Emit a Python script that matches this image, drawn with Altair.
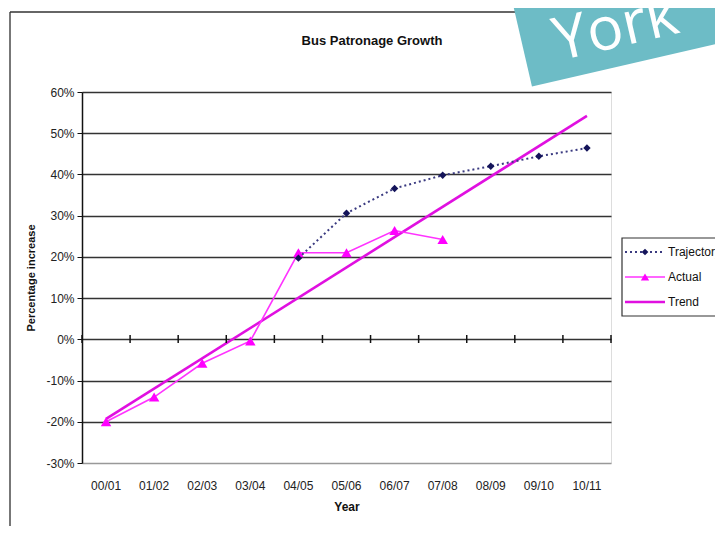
import altair as alt
import pandas as pd

# ---- data ----
chart_title = "Bus Patronage Growth"
years = ["00/01", "01/02", "02/03", "03/04", "04/05", "05/06",
         "06/07", "07/08", "08/09", "09/10", "10/11"]
trajectory = [None, None, None, None, 19.7, 30.6, 36.6, 39.8, 42.0, 44.4, 46.4]
actual = [-20.0, -14.0, -5.8, -0.4, 21.0, 21.0, 26.4, 24.2, None, None, None]
trend = [-19.3, None, None, None, None, None, None, None, None, None, 54.2]
series = ["Trajectory", "Actual", "Trend"]
y_ticks = [-30, -20, -10, 0, 10, 20, 30, 40, 50, 60]

FONT = "Liberation Sans Narrow, Arial Narrow, Liberation Sans, Arial, sans-serif"
C_TRAJ = "#14145a"
C_ACT = "#ff33ff"
C_TREND = "#e010e0"


def frame(vals):
    return pd.DataFrame({"Year": [y for y, v in zip(years, vals) if v is not None],
                         "Value": [v for v in vals if v is not None]})


df_traj = frame(trajectory)
df_act = frame(actual)
df_trend = frame(trend)
df_cat = pd.DataFrame({"Year": years})
dummy = pd.DataFrame({"a": [0]})

xscale = alt.Scale(domain=years, paddingInner=0, paddingOuter=0)
yscale = alt.Scale(domain=[-30, 60], nice=False, zero=False)

x_axis = alt.Axis(title="Year", labelAngle=0, ticks=False, domain=False,
                  labelPadding=17, titlePadding=10, labelFont=FONT,
                  labelFontSize=12, labelColor="#222", titleFont=FONT,
                  titleFontSize=12, titleFontWeight="bold", titleColor="#111",
                  grid=False)
X = alt.X("Year:N", scale=xscale, sort=years, axis=x_axis)
Y = alt.Y("Value:Q", scale=yscale,
          axis=alt.Axis(title="Percentage increase", values=y_ticks,
                        labelExpr="datum.value + '%'", labelFont=FONT,
                        labelFontSize=12, labelColor="#222", labelPadding=3,
                        tickSize=5, tickColor="#111", domainColor="#111",
                        domainWidth=1.5,
                        gridColor=alt.condition("datum.value == -30",
                                                alt.value("#999"), alt.value("#333")),
                        gridWidth=1.6, titleFont=FONT, titleFontSize=11,
                        titleFontWeight="bold", titleColor="#111",
                        titlePadding=9))

# decorations: outer frame and York banner
frame_left = alt.Chart(dummy).mark_rule(color="#777", strokeWidth=2).encode(
    x=alt.value(-72), y=alt.value(-80), y2=alt.value(460))
frame_top = alt.Chart(dummy).mark_rule(color="#333", strokeWidth=1.5).encode(
    x=alt.value(-72), x2=alt.value(640), y=alt.value(-80))
banner = alt.Chart(dummy).mark_point(
    shape="M-1,-0.5H1V0.5H-1Z", filled=True, fill="#6dbcc6", opacity=1,
    strokeWidth=0, angle=347, size=67600).encode(
    x=alt.value(562), y=alt.value(-98))
banner_text = alt.Chart(dummy).mark_text(
    text="York", font="Open Sans, Liberation Sans, sans-serif", fontSize=60,
    color="white", angle=347, align="center", baseline="middle").encode(
    x=alt.value(534), y=alt.value(-63))
title_text = alt.Chart(dummy).mark_text(
    text=chart_title, font=FONT, fontSize=13, fontWeight="bold", color="#111",
    align="center", baseline="middle").encode(
    x=alt.value(290), y=alt.value(-51))

# zero-line ticks at category boundaries
zero_ticks = alt.Chart(df_cat).mark_rule(color="#111", strokeWidth=1.5).encode(
    x=alt.X("Year:N", scale=xscale, sort=years, bandPosition=0, axis=x_axis),
    y=alt.value(243), y2=alt.value(251))
zero_tick_end = alt.Chart(dummy).mark_rule(color="#111", strokeWidth=1.5).encode(
    x=alt.value(529), y=alt.value(243), y2=alt.value(251))

# data series
traj_line = alt.Chart(df_traj).mark_line(
    color="#3a3a80", strokeDash=[2, 3], strokeWidth=2).encode(x=X, y=Y)
traj_pts = alt.Chart(df_traj).mark_point(
    shape="diamond", filled=True, color=C_TRAJ, size=55, opacity=1).encode(x=X, y=Y)
act_line = alt.Chart(df_act).mark_line(color=C_ACT, strokeWidth=1.6).encode(x=X, y=Y)
act_pts = alt.Chart(df_act).mark_point(
    shape="triangle-up", filled=True, color="#ff00ff", size=110, opacity=1).encode(x=X, y=Y)
trend_line = alt.Chart(df_trend).mark_line(color=C_TREND, strokeWidth=2.6).encode(x=X, y=Y)

# manual legend
leg_box = alt.Chart(dummy).mark_rect(fill="white", stroke="#333", strokeWidth=1.2).encode(
    x=alt.value(540), x2=alt.value(660), y=alt.value(146), y2=alt.value(224))
leg_items = []
rows_y = [160, 185, 210]
for name, ry in zip(series, rows_y):
    if name == "Trajectory":
        leg_items.append(alt.Chart(dummy).mark_rule(
            color="#3a3a80", strokeDash=[2, 3], strokeWidth=2).encode(
            x=alt.value(543), x2=alt.value(583), y=alt.value(ry)))
        leg_items.append(alt.Chart(dummy).mark_point(
            shape="diamond", filled=True, color=C_TRAJ, size=45, opacity=1).encode(
            x=alt.value(563), y=alt.value(ry)))
    elif name == "Actual":
        leg_items.append(alt.Chart(dummy).mark_rule(
            color=C_ACT, strokeWidth=1.6).encode(
            x=alt.value(543), x2=alt.value(583), y=alt.value(ry)))
        leg_items.append(alt.Chart(dummy).mark_point(
            shape="triangle-up", filled=True, color="#ff00ff", size=70, opacity=1).encode(
            x=alt.value(563), y=alt.value(ry)))
    else:
        leg_items.append(alt.Chart(dummy).mark_rule(
            color=C_TREND, strokeWidth=2.6).encode(
            x=alt.value(543), x2=alt.value(583), y=alt.value(ry)))
    leg_items.append(alt.Chart(dummy).mark_text(
        text=name, font=FONT, fontSize=12, color="#111", align="left",
        baseline="middle").encode(x=alt.value(586), y=alt.value(ry)))

chart = alt.layer(
    frame_left, frame_top, title_text,
    trend_line, act_line, act_pts, traj_line, traj_pts,
    zero_ticks, zero_tick_end,
    leg_box, *leg_items,
    banner, banner_text,
).properties(
    width=529, height=371,
    autosize=alt.AutoSizeParams(type="none"),
    padding={"left": 74, "top": 84, "right": 104, "bottom": 63},
).configure_view(stroke="#999", strokeWidth=1.2).configure(background="white")

chart.save("out.html", embed_options={"renderer": "svg", "actions": False})
